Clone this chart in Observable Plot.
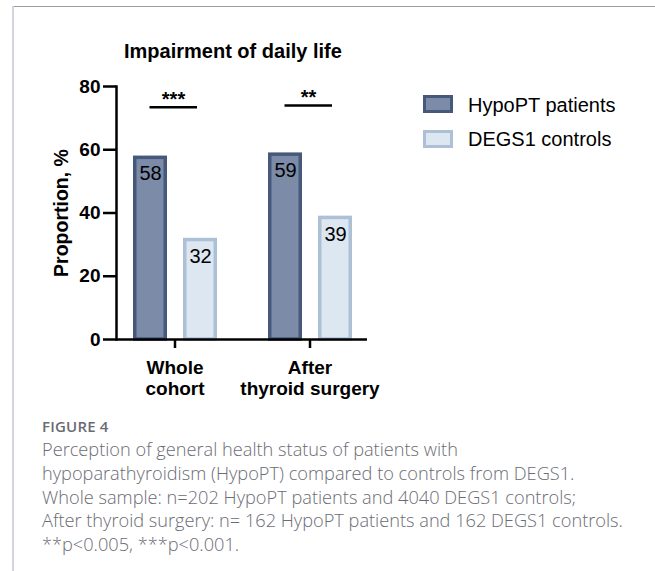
<!DOCTYPE html>
<html>
<head>
<meta charset="utf-8">
<script src="https://cdn.jsdelivr.net/npm/d3@7"></script>
<script src="https://cdn.jsdelivr.net/npm/@observablehq/plot@0.6"></script>
<style>
  html, body { margin: 0; padding: 0; background: #fff; }
  body { width: 655px; height: 571px; position: relative; overflow: hidden; }
  .topline { position: absolute; left: 12px; top: 6px; right: 0; height: 0; border-top: 1.5px solid #9b9ba6; }
  .leftline { position: absolute; left: 12px; top: 6px; bottom: 0; width: 2px; background: #d4d4dc; }
  #chart { position: absolute; left: 0; top: 0; }
  .title { position: absolute; left: 124px; top: 41px; font: bold 20px "Liberation Sans", Arial, sans-serif; line-height: 1; color: #000; white-space: nowrap; }
  .legend-item { position: absolute; left: 423px; font: 20px "Liberation Sans", Arial, sans-serif; line-height: 1; color: #000; white-space: nowrap; }
  .legend-item .sw { position: absolute; left: 0; top: 0; width: 30px; height: 18px; box-sizing: border-box; border: 3px solid; }
  .legend-item .lbl { position: absolute; left: 45px; top: 0; }
  .fig { position: absolute; left: 42px; top: 419px; font: 600 15px "Open Sans", sans-serif; line-height: 1; color: #6a6b73; letter-spacing: 0.2px; }
  .cap { position: absolute; left: 42px; top: 438px; font: 300 18.2px "Open Sans", sans-serif; line-height: 23.8px; color: #6b6c74; white-space: nowrap; }
</style>
</head>
<body>
<div class="topline"></div>
<div class="leftline"></div>
<div id="chart"></div>
<div class="title" id="title"></div>
<div id="legend"></div>
<div class="fig" id="fig"></div>
<div class="cap" id="cap"></div>
<script>
// ---- data ----
const chartTitle = "Impairment of daily life";
const groups = ["Whole cohort", "After thyroid surgery"];
const groupLabels = ["Whole\ncohort", "After\nthyroid surgery"];
const seriesNames = ["HypoPT patients", "DEGS1 controls"];
const hypoValues = [58, 59];
const degsValues = [32, 39];
const sigLevels = [73.4, 74.0];
const sigLabels = ["***", "**"];
const yTicks = [0, 20, 40, 60, 80];
const yLabel = "Proportion, %";
const figureLabel = "FIGURE 4";
const captionLines = [
  "Perception of general health status of patients with",
  "hypoparathyroidism (HypoPT) compared to controls from DEGS1.",
  "Whole sample: n=202 HypoPT patients and 4040 DEGS1 controls;",
  "After thyroid surgery: n= 162 HypoPT patients and 162 DEGS1 controls.",
  "**p<0.005, ***p<0.001."
];

// ---- styles ----
const colors = {
  hypo: { fill: "#7b8ba8", stroke: "#46597a" },
  degs: { fill: "#dce7f1", stroke: "#adc0d6" }
};

const hypoRows = groups.map((g, i) => ({ group: g, value: hypoValues[i] }));
const degsRows = groups.map((g, i) => ({ group: g, value: degsValues[i] }));
const sigRows = groups.map((g, i) => ({ group: g, level: sigLevels[i], label: sigLabels[i] }));

const font = "'Liberation Sans', Arial, sans-serif";

const chart = Plot.plot({
  width: 655,
  height: 400,
  marginLeft: 116,
  marginRight: 288,
  marginTop: 86,
  marginBottom: 61,
  style: { fontFamily: font, background: "transparent", color: "#000", overflow: "visible" },
  x: { domain: groups, paddingInner: 0.3, paddingOuter: 0.075 },
  y: { domain: [0, 80] },
  marks: [
    Plot.barY(hypoRows, { x: "group", y: "value", fill: colors.hypo.fill, stroke: colors.hypo.stroke, strokeWidth: 3.5, insetLeft: 7.75, insetRight: 56.75, insetTop: 1.75 }),
    Plot.barY(degsRows, { x: "group", y: "value", fill: colors.degs.fill, stroke: colors.degs.stroke, strokeWidth: 3.5, insetLeft: 57.75, insetRight: 6.75, insetTop: 1.75 }),
    Plot.text(hypoRows, { x: "group", y: "value", text: d => String(d.value), dx: -24.5, dy: 18, fontSize: 20, fill: "#000" }),
    Plot.text(degsRows, { x: "group", y: "value", text: d => String(d.value), dx: 25.5, dy: 18, fontSize: 20, fill: "#000" }),
    Plot.tickY(sigRows, { x: "group", y: "level", stroke: "#000", strokeWidth: 2.5, insetLeft: 22.5, insetRight: 25 }),
    Plot.text(sigRows, { x: "group", y: "level", text: "label", dy: -8, dx: -1.5, fontSize: 20, fontWeight: "bold", fill: "#000" }),
    Plot.axisY({ ticks: yTicks, tickSize: 13, tickPadding: 3, fontSize: 19, fontWeight: "bold", strokeWidth: 2.5, label: null }),
    Plot.axisX({ tickSize: 9, tickPadding: 10, tickFormat: d => groupLabels[groups.indexOf(d)], fontSize: 19, fontWeight: "bold", lineHeight: 1.13, strokeWidth: 2.5, label: null }),
    Plot.frame({ anchor: "left", stroke: "#000", strokeWidth: 2.5 }),
    Plot.ruleY([0], { stroke: "#000", strokeWidth: 2.5 }),
    Plot.text([yLabel], { frameAnchor: "left", textAnchor: "middle", rotate: -90, dx: -55, fontSize: 19.5, fontWeight: "bold", fill: "#000" })
  ]
});
document.getElementById("chart").appendChild(chart);

document.getElementById("title").textContent = chartTitle;

const legend = document.getElementById("legend");
[[seriesNames[0], colors.hypo, 95], [seriesNames[1], colors.degs, 129]].forEach(([name, c, top]) => {
  const item = document.createElement("div");
  item.className = "legend-item";
  item.style.top = top + "px";
  const sw = document.createElement("div");
  sw.className = "sw";
  sw.style.background = c.fill;
  sw.style.borderColor = c.stroke;
  sw.style.top = (top === 95 ? 0 : 1) + "px";
  const lbl = document.createElement("div");
  lbl.className = "lbl";
  lbl.textContent = name;
  item.appendChild(sw);
  item.appendChild(lbl);
  legend.appendChild(item);
});

document.getElementById("fig").textContent = figureLabel;
const cap = document.getElementById("cap");
captionLines.forEach((line, i) => {
  if (i > 0) cap.appendChild(document.createElement("br"));
  cap.appendChild(document.createTextNode(line));
});
</script>
</body>
</html>
